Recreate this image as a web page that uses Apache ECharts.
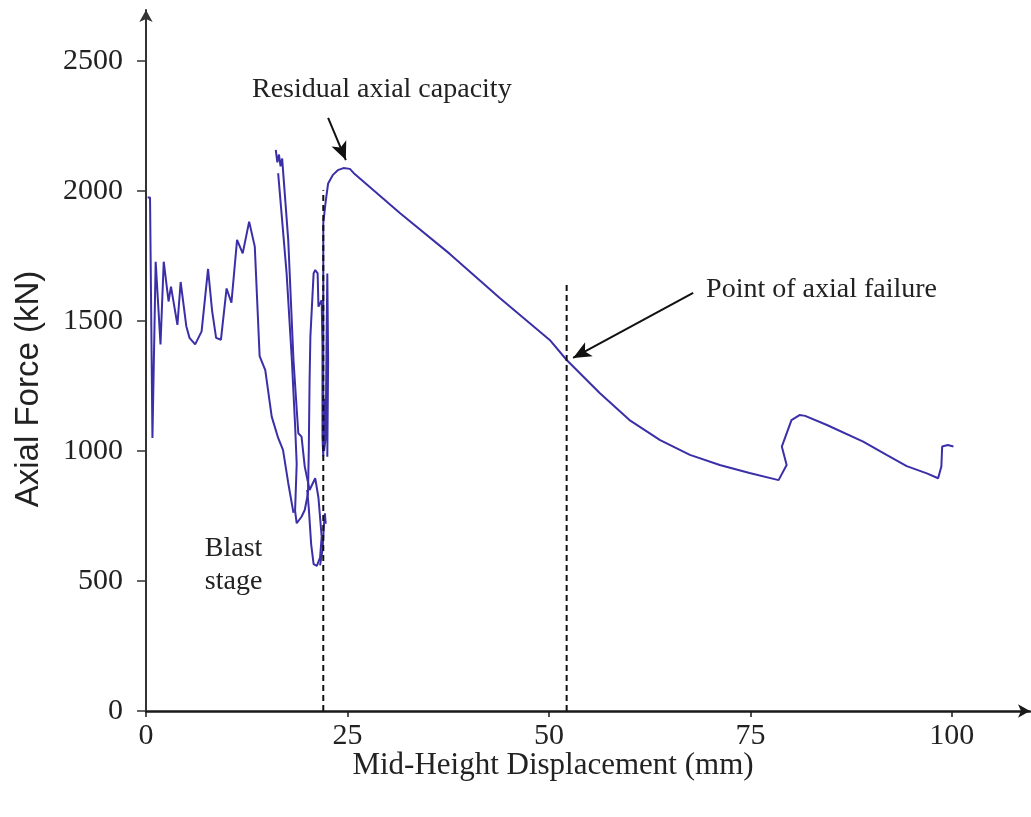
<!DOCTYPE html>
<html lang="en">
<head>
    <meta charset="UTF-8">
    <title>Axial force vs displacement</title>
    <script src="https://cdn.jsdelivr.net/npm/echarts@6.0.0/dist/echarts.min.js"></script>
</head>
<body style="margin:0;background:#fff;">
<div id="main" style="width:1031px;height:817px;"></div>
<script>
    // axis ticks
    const xTicks = [0, 25, 50, 75, 100];
    const yTicks = [0, 500, 1000, 1500, 2000, 2500];

    // blast stage, first trace [mm, kN]
    const blastA = [[0.2, 1975], [0.5, 1975], [0.8, 1050], [1.2, 1728], [1.8, 1410], [2.2, 1728], [2.8, 1575],
        [3.1, 1632], [3.9, 1485], [4.3, 1650], [5.0, 1480], [5.4, 1435], [6.1, 1410], [6.9, 1460], [7.7, 1700],
        [8.2, 1540], [8.7, 1435], [9.3, 1428], [10.0, 1625], [10.6, 1570], [11.3, 1812], [12.0, 1760],
        [12.8, 1882], [13.5, 1786], [14.1, 1365], [14.8, 1311], [15.6, 1132], [16.4, 1050], [17.0, 1004],
        [17.65, 877], [18.3, 762]];
    // second trace, from the top spike down to the minimum
    const blastB = [[16.1, 2158], [16.3, 2110], [16.5, 2140], [16.7, 2095], [16.9, 2125], [17.0, 2081],
        [17.65, 1812], [18.3, 1350], [18.9, 1068], [19.3, 1055], [19.7, 940], [20.3, 850], [21.0, 895],
        [21.4, 820], [21.8, 670], [21.6, 590], [21.2, 558], [20.8, 565], [20.5, 640], [20.2, 780], [20.0, 850]];
    // left twin of the spike, then the jagged part near the dashed line
    const blastC = [[16.4, 2068], [17.45, 1683], [18.1, 1350], [18.5, 1100], [18.7, 950], [18.5, 770],
        [18.7, 722], [19.3, 747], [19.7, 773], [20.1, 837], [20.2, 1000], [20.3, 1273], [20.4, 1440],
        [20.8, 1683], [21.0, 1696], [21.3, 1683], [21.4, 1555], [21.6, 1560], [21.8, 1580], [21.9, 1400],
        [21.9, 1050], [22.0, 980], [22.1, 1200], [22.1, 1000], [22.3, 1050], [22.4, 1400], [22.5, 1683],
        [22.6, 1680], [22.6, 1350], [22.5, 978]];
    const blastD = [[21.6, 560], [21.9, 620], [22.1, 722], [22.2, 760], [22.3, 720]];
    // residual capacity curve
    const mainCurve = [[22.0, 1000], [22.0, 1500], [22.0, 1876], [22.3, 1960], [22.6, 2029], [23.2, 2062],
        [23.8, 2080], [24.5, 2088], [25.3, 2085], [25.9, 2065], [31.5, 1915], [37.7, 1758], [43.9, 1588],
        [50.1, 1427], [52.2, 1350], [56.3, 1223], [60.0, 1119], [63.8, 1042], [67.5, 985], [71.2, 946],
        [74.9, 915], [78.5, 888], [78.6, 891], [79.5, 946], [78.9, 1017], [80.1, 1119], [81.1, 1138],
        [81.8, 1135], [84.5, 1100], [89.0, 1036], [91.9, 985], [94.4, 942], [96.9, 914], [98.3, 895],
        [98.7, 940], [98.8, 1017], [99.5, 1023], [100.2, 1017]];

    // dashed markers
    const dashBlast = [[22, 0], [22, 2003]];
    const dashFail = [[52.2, 0], [52.2, 1638]];

    // annotation arrows (tail, head) and text anchors
    const arrowResidual = [[22.6, 2281], [24.8, 2119]];
    const arrowFailure = [[67.9, 1608], [53.0, 1358]];
    const labelResidual = [13.15, 2388];
    const labelFailure = [69.5, 1619];
    const labelBlast = [7.3, 562];

    const lineColor = '#3b2fa8';
    const serif = '"Liberation Serif", "Times New Roman", serif';

    function curve(data) {
        return {
            type: 'line', data: data, showSymbol: false, silent: true,
            lineStyle: {color: lineColor, width: 2}
        };
    }

    function dashed(data) {
        return {
            type: 'line', data: data, showSymbol: false, silent: true,
            lineStyle: {color: '#111', width: 2, type: [6, 4]}
        };
    }

    const chart = echarts.init(document.getElementById('main'));
    const option = {
        animation: false,
        grid: {left: 146, right: 1, top: 10, bottom: 106, outerBoundsMode: 'none'},
        xAxis: {
            type: 'value', min: 0, max: 109.7,
            splitLine: {show: false},
            axisLine: {lineStyle: {color: '#1a1a1a', width: 2.5}, symbol: ['none', 'arrow'], symbolSize: [10, 12]},
            axisTick: {show: true, length: 6, customValues: xTicks, lineStyle: {color: '#1a1a1a', width: 1.5}},
            axisLabel: {customValues: xTicks, margin: 10, color: '#222', fontFamily: serif, fontSize: 30,
                formatter: v => String(v)}
        },
        yAxis: {
            type: 'value', min: 0, max: 2696,
            splitLine: {show: false},
            axisLine: {show: true, lineStyle: {color: '#333', width: 2}, symbol: ['none', 'arrow'], symbolSize: [10, 12]},
            axisTick: {show: true, length: 9, customValues: yTicks, lineStyle: {color: '#333', width: 1.5}},
            axisLabel: {customValues: yTicks, margin: 23, color: '#222', fontFamily: serif, fontSize: 30,
                formatter: v => String(v)}
        },
        series: [
            curve(blastA), curve(blastB), curve(blastC), curve(blastD),
            Object.assign(curve(mainCurve), {
                markLine: {
                    silent: true, symbol: ['none', 'arrow'], symbolSize: [12, 18],
                    label: {show: false},
                    lineStyle: {color: '#111', width: 2, type: 'solid'},
                    data: [
                        [{coord: arrowResidual[0]}, {coord: arrowResidual[1]}],
                        [{coord: arrowFailure[0]}, {coord: arrowFailure[1]}]
                    ]
                }
            }),
            dashed(dashBlast), dashed(dashFail)
        ]
    };
    chart.setOption(option);

    // texts placed from data coordinates
    const pRes = chart.convertToPixel({gridIndex: 0}, labelResidual);
    const pFail = chart.convertToPixel({gridIndex: 0}, labelFailure);
    const pBlast = chart.convertToPixel({gridIndex: 0}, labelBlast);
    chart.setOption({
        graphic: [
            {type: 'text', x: pRes[0], y: pRes[1], silent: true,
                style: {text: 'Residual axial capacity', font: '28px ' + serif, fill: '#222', align: 'left', verticalAlign: 'middle'}},
            {type: 'text', x: pFail[0], y: pFail[1], silent: true,
                style: {text: 'Point of axial failure', font: '28px ' + serif, fill: '#222', align: 'left', verticalAlign: 'middle'}},
            {type: 'text', x: pBlast[0], y: pBlast[1], silent: true,
                style: {text: 'Blast\nstage', font: '28px ' + serif, lineHeight: 33, fill: '#222', align: 'left', verticalAlign: 'middle'}},
            {type: 'text', x: 553, y: 766, silent: true,
                style: {text: 'Mid-Height Displacement (mm)', font: '31px ' + serif, fill: '#222', align: 'center', verticalAlign: 'middle'}},
            {type: 'text', x: 29, y: 389, rotation: Math.PI / 2, silent: true,
                style: {text: 'Axial Force (kN)', font: '33px "Liberation Sans", Arial, sans-serif', fill: '#222', align: 'center', verticalAlign: 'middle'}}
        ]
    });
</script>
</body>
</html>
